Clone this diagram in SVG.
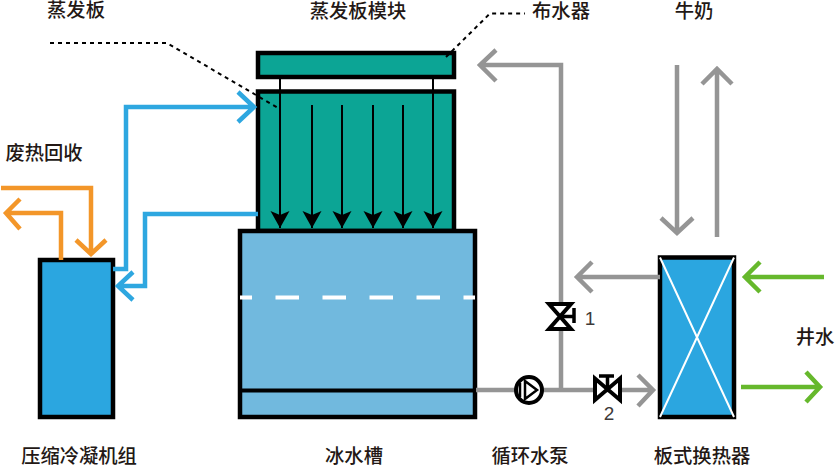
<svg xmlns="http://www.w3.org/2000/svg" width="835" height="466" viewBox="0 0 835 466">
<style>
text{font-family:"Noto Sans CJK SC","Noto Sans",sans-serif;font-size:19.3px;font-weight:500;fill:#231815;text-anchor:middle}
.box{stroke:#000;stroke-width:4.5}
.teal{fill:#0ca595}
.c{fill:none;stroke-width:4.5}
.gr{stroke:#959595}.bl{stroke:#2ea7e0}.or{stroke:#f39629}.gn{stroke:#66b82c}
.drop{fill:none;stroke:#000;stroke-width:2}
.dot{fill:none;stroke:#000;stroke-width:2;stroke-dasharray:4 4}
.v{stroke:#000;stroke-width:4}
</style>
<defs>
<marker id="ah" markerUnits="userSpaceOnUse" markerWidth="20" markerHeight="20" refX="18" refY="10" orient="auto"><path d="M1 .5 18 10 1 19.5 5 10Z" fill="#000"/></marker>
</defs>
<g id="evaporator-module">
<rect class="box teal" x="258" y="53" width="196" height="24"/>
<rect class="box teal" x="258" y="91.500" width="196" height="139.500"/>
</g>
<g id="ice-tank">
<rect class="box" x="240" y="231" width="235" height="186" fill="#71b9de"/>
<path d="M240 390.500H475" stroke="#000" stroke-width="4"/>
<path d="M240 297.500H475" stroke="#fff" stroke-width="4" stroke-dasharray="23.500 23.500" stroke-dashoffset="11.500" fill="none"/>
</g>
<g id="compressor"><rect class="box" x="40" y="260" width="73" height="157" fill="#2ba6e0"/></g>
<g id="heat-exchanger">
<rect class="box" x="660" y="257.500" width="74" height="159.500" fill="#2ba6e0"/>
<path d="M660 257.500 734 417M734 257.500 660 417" stroke="#fff" stroke-width="2" fill="none"/>
</g>
<g id="connectors">
<g class="drops">
<path class="drop" d="M280 79V228" marker-end="url(#ah)"/>
<path class="drop" d="M433 79V228" marker-end="url(#ah)"/>
<path class="drop" d="M312 105V228" marker-end="url(#ah)"/>
<path class="drop" d="M342 105V228" marker-end="url(#ah)"/>
<path class="drop" d="M373 105V228" marker-end="url(#ah)"/>
<path class="drop" d="M403 105V228" marker-end="url(#ah)"/>
</g>
<path class="c bl" d="M113 269H126V107H254M238 92 254 107 238 122"/>
<path class="c bl" d="M258 214H145V286H118M133 272 118 286 133 300"/>
<path class="c or" d="M1 188H91V254M76 240 91 254 106 240"/>
<path class="c or" d="M61 260V213H6M20 199 6 213 20 229"/>
<path class="c gr" d="M476 390H653M638 375 653 390 638 406"/>
<path class="c gr" d="M561 390V65H480M496 50 480 65 496 81"/>
<path class="c gr" d="M660 277H577M592 262 577 277 592 292"/>
<path class="c gr" d="M677 65V233M661 218 677 233 693 218"/>
<path class="c gr" d="M717 237V69M702 84 717 69 732 84"/>
<path class="c gn" d="M824 277H745M760 262 745 277 760 292"/>
<path class="c gn" d="M741 387H820M806 372 820 387 806 402"/>
<path class="dot" d="M50 43H167L279 108.500"/>
<path class="dot" d="M446 57 490 13.500H525"/>
</g>
<g id="pump"><circle class="v" cx="529" cy="390" r="13" fill="#fff"/><path d="M525 381 537 390 525 399Z" fill="#fff" stroke="#000" stroke-width="2.500"/><path d="M520 383V397" stroke="#000" stroke-width="2.500"/></g>
<g id="valve-1"><path class="v" d="M549 304H571L549 329H571Z" fill="#fff"/><path d="M561 316.500H574M574 308V323" stroke="#000" stroke-width="3.500" fill="none"/></g>
<g id="valve-2"><path class="v" d="M595 378.500V400L620 378.500V400Z" fill="#fff"/><path d="M607.500 389V376M599 376H614" stroke="#000" stroke-width="3.500" fill="none"/></g>
<g id="labels">
<text x="76" y="17">蒸发板</text>
<text x="358" y="18">蒸发板模块</text>
<text x="561" y="18">布水器</text>
<text x="694" y="18">牛奶</text>
<text x="44" y="160">废热回收</text>
<text x="815" y="344">井水</text>
<text x="79" y="463">压缩冷凝机组</text>
<text x="354" y="463">冰水槽</text>
<text x="530" y="463">循环水泵</text>
<text x="702" y="463">板式换热器</text>
<text x="590" y="325" style="font-family:'Liberation Sans',sans-serif;font-size:19px;font-weight:400;fill:#3e3a39">1</text>
<text x="609" y="420" style="font-family:'Liberation Sans',sans-serif;font-size:19px;font-weight:400;fill:#3e3a39">2</text>
</g>
</svg>
